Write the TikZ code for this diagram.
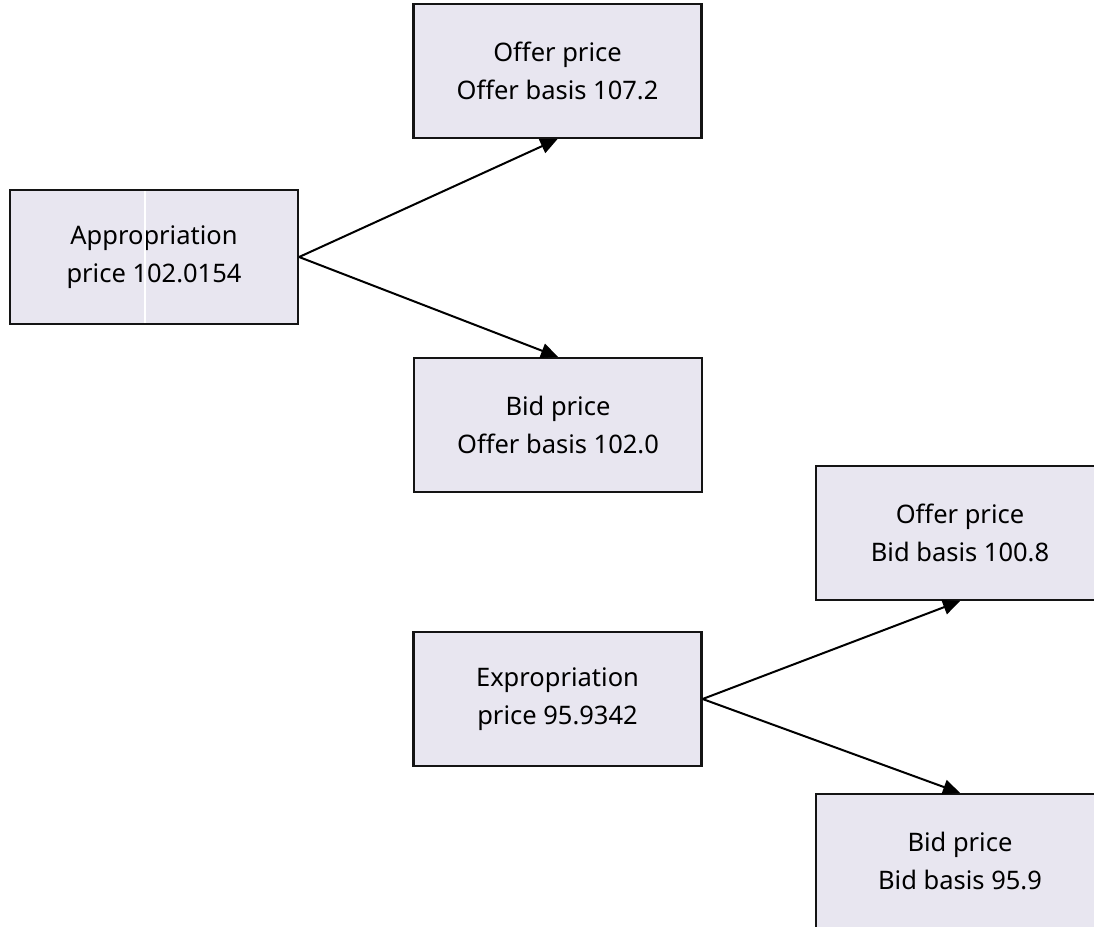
\documentclass[tikz,border=0pt]{standalone}
\usepackage{fontspec}
\setmainfont{Noto Sans}
\usetikzlibrary{arrows.meta}
\definecolor{boxfill}{RGB}{232,230,240}
\definecolor{boxline}{RGB}{20,20,20}
\tikzset{
  pricebox/.style={draw=boxline, line width=2.2pt, fill=boxfill, rectangle,
    minimum width=288pt, minimum height=134pt, inner sep=0pt, align=center,
    font=\fontsize{25.5}{38.3}\selectfont},
  link/.style={line width=2pt, draw=black, -{Triangle[length=17pt,width=15pt]}}
}
\begin{document}
\begin{tikzpicture}[x=1pt,y=-1pt]
  \useasboundingbox (0,0) rectangle (1094,926);
  \clip (0,0) rectangle (1094,926);
  \fill[white] (0,0) rectangle (1094,926);
  \node[pricebox] (appr) at (154,257) {Appropriation\\price 102.0154};
  \draw[white, line width=1.2pt] (145,191) -- (145,323);
  \node[pricebox] (offerA) at (557.5,71) {Offer price\\Offer basis 107.2};
  \node[pricebox] (bidA) at (558,425) {Bid price\\Offer basis 102.0};
  \node[pricebox] (expr) at (557.5,699) {Expropriation\\price 95.9342};
  \node[pricebox] (offerB) at (960,533) {Offer price\\Bid basis 100.8};
  \node[pricebox] (bidB) at (960,861) {Bid price\\Bid basis 95.9};
  \draw[link] (appr.east) -- (offerA.south);
  \draw[link] (appr.east) -- (bidA.north);
  \draw[link] (expr.east) -- (offerB.south);
  \draw[link] (expr.east) -- (bidB.north);
\end{tikzpicture}
\end{document}
